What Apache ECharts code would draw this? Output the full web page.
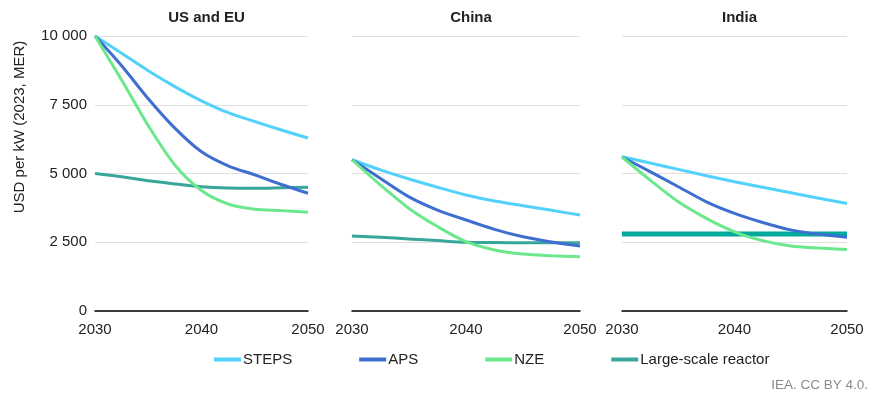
<!DOCTYPE html>
<html>
<head>
<meta charset="utf-8">
<script src="https://cdn.jsdelivr.net/npm/echarts@6/dist/echarts.min.js"></script>
<style>
  html, body { margin: 0; padding: 0; background: #fff; }
  #chart { width: 872px; height: 398px; }
</style>
</head>
<body>
<div id="chart"></div>
<script>
// Years sampled for each curve
const years = [2030, 2032.5, 2035, 2037.5, 2040, 2042.5, 2045, 2047.5, 2050];
const regions = ['US and EU', 'China', 'India'];
const seriesNames = ['STEPS', 'APS', 'NZE', 'Large-scale reactor'];
const yTicks = [0, 2500, 5000, 7500, 10000];

// Capital cost, USD per kW (2023, MER)
const usEuSteps = [10000, 9370, 8740, 8160, 7640, 7210, 6890, 6580, 6290];
const usEuAps   = [10000, 8920, 7720, 6650, 5790, 5280, 4950, 4600, 4280];
const usEuNze   = [10000, 8400, 6740, 5310, 4380, 3890, 3700, 3650, 3590];
const usEuLarge = [5000, 4880, 4740, 4620, 4520, 4470, 4460, 4480, 4500];

const chinaSteps = [5500, 5130, 4800, 4500, 4220, 4000, 3830, 3660, 3490];
const chinaAps   = [5500, 4820, 4150, 3670, 3310, 2970, 2700, 2510, 2360];
const chinaNze   = [5500, 4580, 3730, 3070, 2520, 2220, 2070, 2010, 1970];
const chinaLarge = [2730, 2680, 2620, 2560, 2500, 2490, 2480, 2480, 2480];

const indiaSteps = [5610, 5380, 5150, 4920, 4700, 4500, 4300, 4100, 3910];
const indiaAps   = [5600, 5070, 4520, 3970, 3550, 3220, 2950, 2790, 2680];
const indiaNze   = [5600, 4760, 3970, 3370, 2880, 2560, 2360, 2290, 2240];
const indiaLarge = [2800, 2800, 2800, 2800, 2800, 2800, 2800, 2800, 2800];

const panelData = [
  [usEuSteps, usEuAps, usEuNze, usEuLarge],
  [chinaSteps, chinaAps, chinaNze, chinaLarge],
  [indiaSteps, indiaAps, indiaNze, indiaLarge]
];

const colors = ['#52d1fb', '#3e6fd0', '#6be88c', '#38a69a'];
const FONT = '"Liberation Sans", Arial, sans-serif';

const grids = [
  { left: 95,  width: 213, top: 36, height: 275 },
  { left: 352, width: 228, top: 36, height: 275 },
  { left: 622, width: 225, top: 36, height: 275 }
];

const xAxes = grids.map((g, i) => ({
  type: 'value', gridIndex: i, min: 2030, max: 2050, interval: 10,
  axisLine: { show: true, lineStyle: { color: '#000', width: 1.5 } },
  axisTick: { show: false },
  splitLine: { show: false },
  axisLabel: { color: '#222', fontSize: 15, fontFamily: FONT, margin: 11,
    formatter: v => String(v) }
}));

const yAxes = grids.map((g, i) => ({
  type: 'value', gridIndex: i, min: yTicks[0], max: yTicks[yTicks.length - 1], interval: 2500,
  axisLine: { show: false }, axisTick: { show: false },
  splitLine: { show: true, lineStyle: { color: '#e0e0e0', width: 1 } },
  axisLabel: { show: i === 0, color: '#222', fontSize: 15, fontFamily: FONT, margin: 8,
    formatter: v => v >= 1000 ? String(v).replace(/\B(?=(\d{3})+(?!\d))/g, ' ') : String(v) }
}));

const series = [];
panelData.forEach((sets, p) => {
  sets.forEach((vals, k) => {
    const isIndiaLarge = (p === 2 && k === 3);
    series.push({
      name: seriesNames[k], type: 'line', xAxisIndex: p, yAxisIndex: p,
      data: years.map((y, j) => [y, vals[j]]),
      smooth: 0.3, showSymbol: false, symbol: 'none',
      z: k === 3 ? 1 : 2,
      color: colors[k],
      lineStyle: { width: isIndiaLarge ? 5 : 3, color: isIndiaLarge ? '#00a99b' : colors[k] }
    });
  });
});

const centers = grids.map(g => g.left + g.width / 2);

const option = {
  animation: false,
  textStyle: { fontFamily: FONT },
  title: regions.map((r, i) => ({
    text: r, left: centers[i], top: 5, textAlign: 'center',
    textStyle: { fontSize: 15, fontWeight: 'bold', color: '#222', fontFamily: FONT }
  })),
  legend: {
    data: seriesNames, left: 209, top: 347, icon: 'rect',
    itemWidth: 27, itemHeight: 4, itemGap: 67,
    textStyle: { fontSize: 15, color: '#222', fontFamily: FONT, padding: [0, 0, 0, -3] }
  },
  grid: grids,
  xAxis: xAxes,
  yAxis: yAxes,
  series: series,
  graphic: [
    { type: 'text', x: 20, y: 127, rotation: Math.PI / 2,
      style: { text: 'USD per kW (2023, MER)', fontSize: 15, fontFamily: FONT, fill: '#222',
        align: 'center', verticalAlign: 'middle' } },
    { type: 'text', right: 4, top: 378,
      style: { text: 'IEA. CC BY 4.0.', fontSize: 13.5, fontFamily: FONT, fill: '#8a8a8a' } }
  ]
};

echarts.init(document.getElementById('chart'), null, { renderer: 'canvas' }).setOption(option);
</script>
</body>
</html>
